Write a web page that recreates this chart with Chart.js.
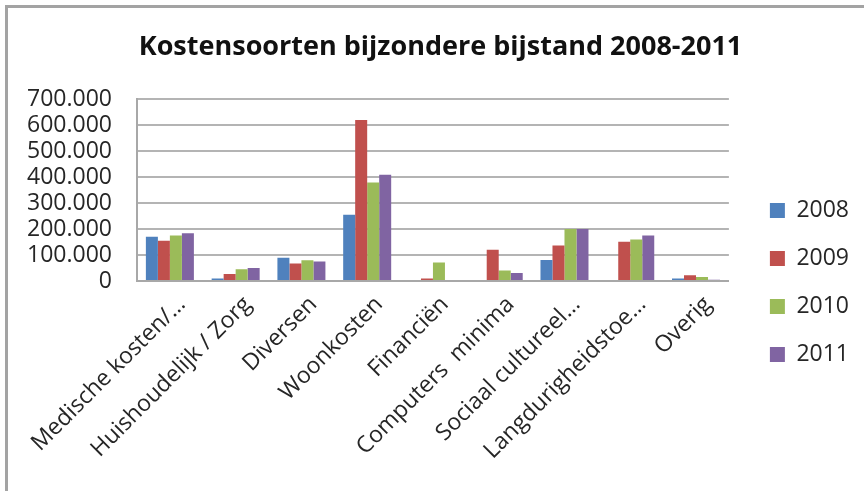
<!DOCTYPE html>
<html>
<head>
<meta charset="utf-8">
<script src="https://cdn.jsdelivr.net/npm/chart.js@4.4.1/dist/chart.umd.min.js"></script>
<style>
    body { margin: 0; background: #fff; }
    #wrap { position: relative; width: 864px; height: 491px; }
    #frame {
        position: absolute; left: 5px; top: 5px; right: 0; bottom: 0;
        border-left: 3px solid #a3a3a3; border-top: 3px solid #a3a3a3;
        pointer-events: none;
    }
    canvas { position: absolute; left: 0; top: 0; }
</style>
</head>
<body>
<div id="wrap">
    <canvas id="kostenchart" width="864" height="491"></canvas>
    <div id="frame"></div>
</div>
<script>
var categories = [
    "Medische kosten/\u2026",
    "Huishoudelijk / Zorg",
    "Diversen",
    "Woonkosten",
    "Financi\u00ebn",
    "Computers  minima",
    "Sociaal cultureel\u2026",
    "Langdurigheidstoe\u2026",
    "Overig"
];
var years = ["2008", "2009", "2010", "2011"];

var values2008 = [171000, 10000, 90000, 255000, 0, 0, 81000, 0, 10000];
var values2009 = [155000, 27000, 67000, 621000, 10000, 120000, 137000, 151000, 22000];
var values2010 = [175000, 45000, 80000, 380000, 71000, 40000, 200000, 160000, 15000];
var values2011 = [184000, 50000, 75000, 410000, 0, 31000, 200000, 175000, 5000];

var yTicks = [0, 100000, 200000, 300000, 400000, 500000, 600000, 700000];

var colors = ['#4F81BD', '#C0504D', '#9BBB59', '#8064A2'];

function formatNl(v) {
    // 100000 -> 100.000
    return String(v).replace(/\B(?=(\d{3})+(?!\d))/g, '.');
}

var ctx = document.getElementById("kostenchart");
var myBarChart = new Chart(ctx, {
    type: 'bar',
    data: {
        labels: categories,
        datasets: [
            { label: years[0], data: values2008, backgroundColor: colors[0] },
            { label: years[1], data: values2009, backgroundColor: colors[1] },
            { label: years[2], data: values2010, backgroundColor: colors[2] },
            { label: years[3], data: values2011, backgroundColor: colors[3] }
        ]
    },
    options: {
        responsive: false,
        animation: false,
        layout: {
            padding: { left: 22, right: 5, top: 0, bottom: 0 }
        },
        datasets: {
            bar: {
                categoryPercentage: 0.73,
                barPercentage: 1.0,
                borderWidth: 0
            }
        },
        scales: {
            x: {
                grid: { display: false },
                border: { display: true, color: '#a8a8a8', width: 2 },
                ticks: {
                    color: '#262626',
                    font: { family: 'Open Sans', size: 23 },
                    maxRotation: 45,
                    minRotation: 45,
                    autoSkip: false,
                    labelOffset: 12,
                    padding: 2
                },
                afterFit: function (scale) {
                    scale.height = 210;
                    scale.paddingLeft = 0;
                    scale.paddingRight = 0;
                }
            },
            y: {
                min: 0,
                max: 700000,
                afterBuildTicks: function (scale) {
                    scale.ticks = yTicks.map(function (v) { return { value: v }; });
                },
                grid: { color: '#b4b4b4', lineWidth: 2, drawTicks: false },
                border: { display: true, color: '#a8a8a8', width: 2 },
                ticks: {
                    color: '#262626',
                    font: { family: 'Open Sans', size: 23 },
                    padding: 25,
                    autoSkip: false,
                    callback: function (value) { return formatNl(value); }
                },
                afterFit: function (scale) { scale.width = 115; }
            },
            gap: {
                position: 'right',
                display: true,
                grid: { display: false },
                border: { display: false },
                ticks: { display: false },
                afterFit: function (scale) { scale.width = 16; }
            }
        },
        plugins: {
            title: {
                display: true,
                text: 'Kostensoorten bijzondere bijstand 2008-2011',
                color: '#111',
                font: { family: 'Open Sans', size: 27, weight: 'bold' },
                padding: { top: 31, bottom: 36 }
            },
            legend: {
                position: 'right',
                title: {
                    display: true,
                    text: ' ',
                    font: { size: 10 },
                    padding: { top: 62, bottom: 0 }
                },
                labels: {
                    boxWidth: 15,
                    boxHeight: 15,
                    padding: 25,
                    color: '#262626',
                    font: { family: 'Open Sans', size: 23 }
                }
            },
            tooltip: { enabled: false }
        }
    }
});
</script>
</body>
</html>
